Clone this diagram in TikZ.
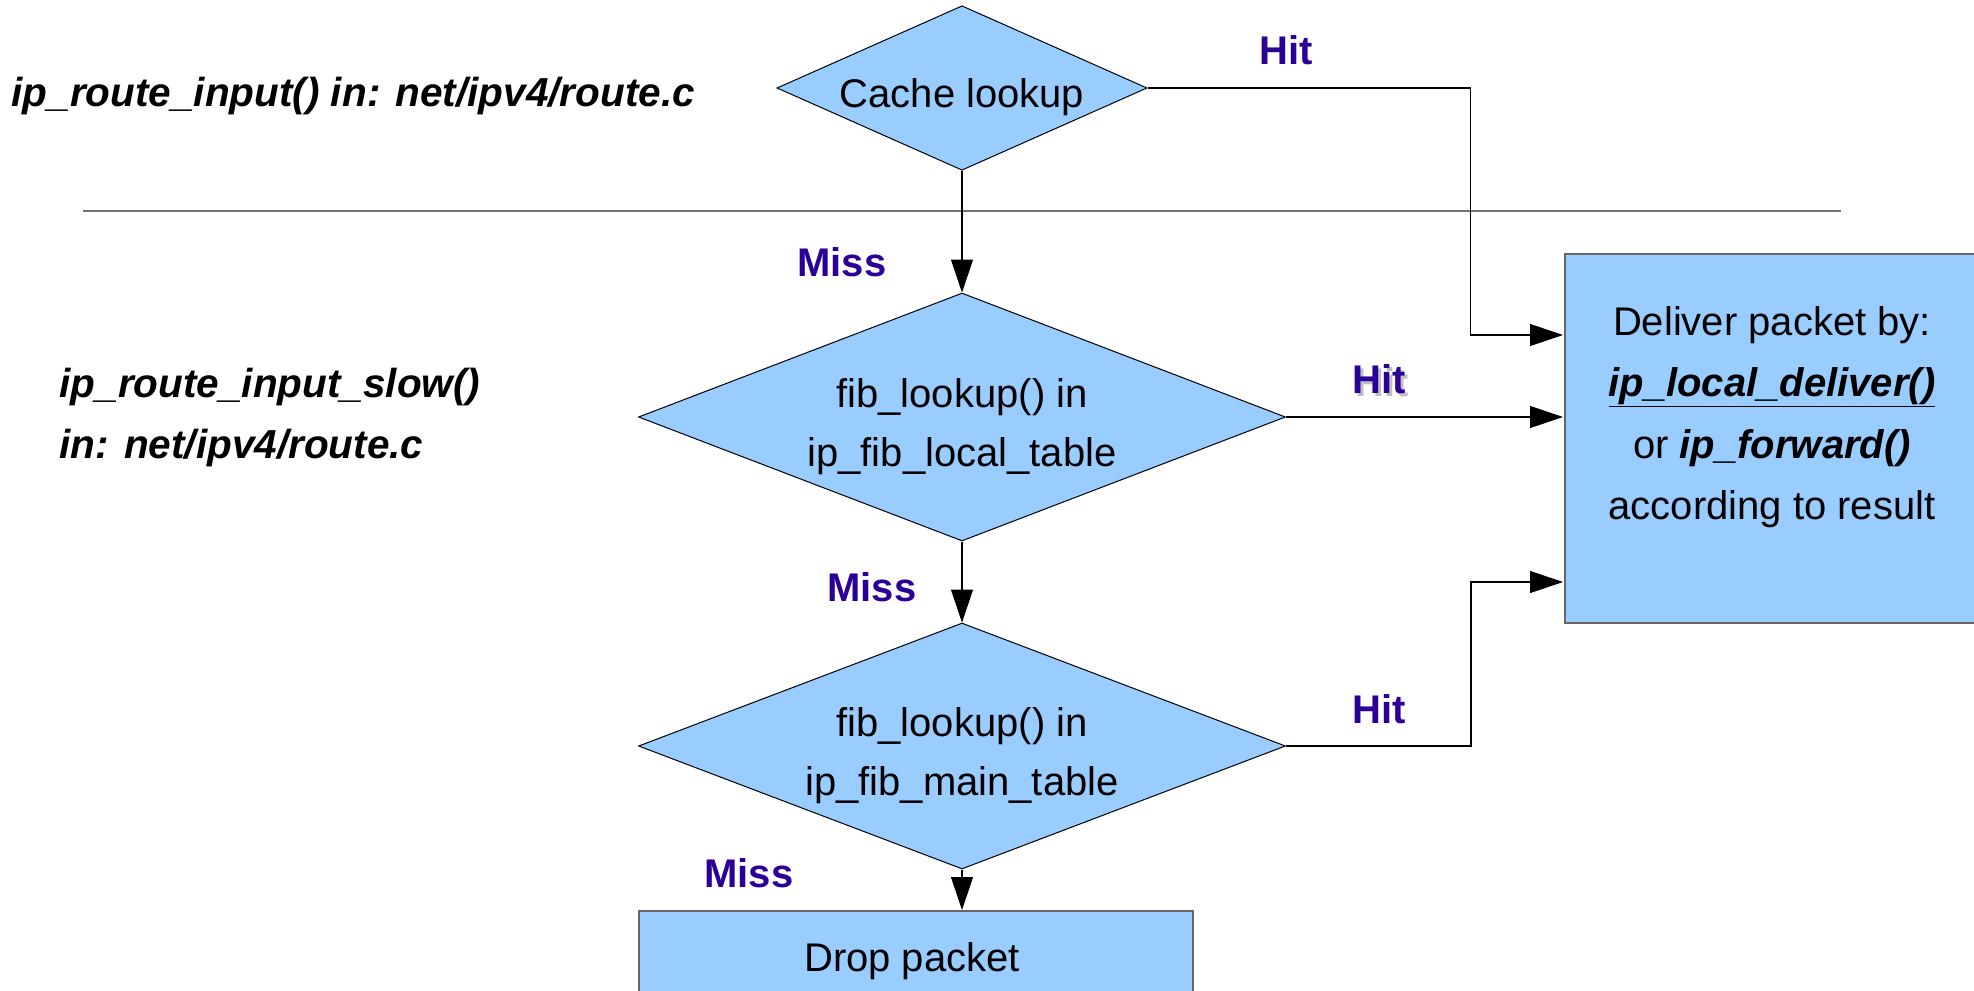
\documentclass[tikz,border=0pt]{standalone}
\usepackage{fontspec}
\setmainfont{Liberation Sans}
\usetikzlibrary{shapes.geometric,arrows.meta}
\definecolor{boxblue}{HTML}{99CCFF}
\definecolor{labelblue}{RGB}{42,0,153}
\begin{document}
\begin{tikzpicture}[x=1pt,y=-1pt,
  every node/.style={font=\fontsize{40}{59}\selectfont},
  decision/.style={diamond, draw=black, line width=1pt, fill=boxblue, inner sep=0pt, align=center},
  procbox/.style={rectangle, draw=black!60, line width=1.5pt, fill=boxblue, inner sep=0pt},
  lbl/.style={font=\fontsize{40}{48}\selectfont\bfseries, text=labelblue},
  lblshadow/.style={font=\fontsize{40}{48}\selectfont\bfseries, text=black!25},
  ctitle/.style={font=\fontsize{40.5}{61}\selectfont\bfseries\itshape, align=left, anchor=west},
  arr/.style={draw=black, line width=1.1pt, -{Triangle[length=33pt,width=22pt]}},
  sepline/.style={draw=black!55, line width=1.6pt}]
\clip (0,0) rectangle (1974,991);
\fill[white] (0,0) rectangle (1974,991);

% titles
\node[ctitle] (t1) at (8,96) {ip\_route\_input() in: net/ipv4/route.c};
\node[ctitle] (t2) at (56,418) {ip\_route\_input\_slow()\\in: net/ipv4/route.c};

% separator
\draw[sepline] (83,211) -- (1841,211);

% decisions
\node[decision, shape aspect=2.25, minimum width=369, minimum height=164] (cache) at (962,88) {\rule{0pt}{47.5pt}Cache lookup};
\node[decision, shape aspect=2.61, minimum width=647, minimum height=248] (d2) at (962,417) {\rule{0pt}{49pt}fib\_lookup() in\\ip\_fib\_local\_table};
\node[decision, shape aspect=2.63, minimum width=647, minimum height=246] (d3) at (962,746) {\rule{0pt}{49pt}fib\_lookup() in\\ip\_fib\_main\_table};

% boxes
\node[procbox, minimum width=554, minimum height=94, anchor=north west] (drop) at (638,910) {};
\node (droptext) at (912,961) {Drop packet};
\node[procbox, minimum width=420, minimum height=369, anchor=north west] (deliver) at (1564,253) {};
\node[align=center, font=\fontsize{40}{61.5}\selectfont] (delivertext) at (1772,417)
  {Deliver packet by:\\\underline{\textbf{\textit{ip\_local\_deliver()}}}\\or \textbf{\textit{ip\_forward()}}\\according to result};

% entry points on deliver box
\coordinate (in1) at (1563,335);
\coordinate (in2) at (1563,417);
\coordinate (in3) at (1563,582);

% connectors
\draw[arr] (cache.east) -- ++(323,0) |- (in1);
\draw[arr] (d2.east) -- (in2);
\draw[arr] (d3.east) -- ++(185,0) |- (in3);
\draw[arr] (cache.south) -- (d2.north);
\draw[arr] (d2.south) -- (d3.north);
\draw[arr] (d3.south) -- (d3.south |- drop.north);

% labels
\node[lbl] (hit1) at (1286,50) {Hit};
\node[lblshadow] (hit2s) at (1382,382) {Hit};
\node[lbl] (hit2) at (1379,379) {Hit};
\node[lbl] (hit3) at (1379,709) {Hit};
\node[lbl] (miss1) at (842,262) {Miss};
\node[lbl] (miss2) at (872,587) {Miss};
\node[lbl] (miss3) at (749,873) {Miss};
\end{tikzpicture}
\end{document}
